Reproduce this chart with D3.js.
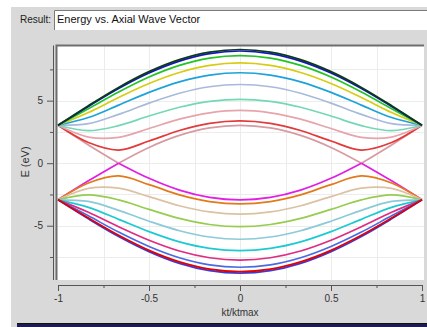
<!DOCTYPE html>
<html>
<head>
<meta charset="utf-8">
<script src="https://cdn.jsdelivr.net/npm/d3@7"></script>
<style>
  body { margin: 0; background: #fff; }
  svg text { font-family: "Liberation Sans", Arial, sans-serif; }
</style>
</head>
<body>
<div id="chart"></div>
<script>
// axial wave vector, kt/ktmax
var kt = [-1, -0.833, -0.667, -0.5, -0.333, -0.167, 0, 0.167, 0.333, 0.5, 0.667, 0.833, 1];

// upper bands (eV), listed top to bottom at kt = 0
var cb0 = [3.03, 4.60, 6.06, 7.32, 8.28, 8.88, 9.09, 8.88, 8.28, 7.32, 6.06, 4.60, 3.03];
var cb1 = [3.03, 4.54, 5.97, 7.21, 8.16, 8.76, 8.97, 8.76, 8.16, 7.21, 5.97, 4.54, 3.03];
var cb2 = [3.03, 4.35, 5.69, 6.89, 7.82, 8.40, 8.60, 8.40, 7.82, 6.89, 5.69, 4.35, 3.03];
var cb3 = [3.03, 4.05, 5.25, 6.37, 7.25, 7.82, 8.02, 7.82, 7.25, 6.37, 5.25, 4.05, 3.03];
var cb4 = [3.03, 3.65, 4.64, 5.66, 6.50, 7.04, 7.23, 7.04, 6.50, 5.66, 4.64, 3.65, 3.03];
var cb5 = [3.03, 3.16, 3.90, 4.80, 5.59, 6.11, 6.29, 6.11, 5.59, 4.80, 3.90, 3.16, 3.03];
var cb6 = [3.03, 2.60, 3.00, 3.77, 4.47, 4.94, 5.11, 4.94, 4.47, 3.77, 3.00, 2.60, 3.03];
var cb7 = [3.03, 2.09, 2.07, 2.77, 3.52, 4.03, 4.22, 4.03, 3.52, 2.77, 2.07, 2.09, 3.03];
var cb8 = [3.03, 1.65, 1.05, 1.77, 2.61, 3.18, 3.38, 3.18, 2.61, 1.77, 1.05, 1.65, 3.03];
var cb9 = [3.03, 1.46, 0, 1.26, 2.22, 2.82, 3.03, 2.82, 2.22, 1.26, 0, 1.46, 3.03];

// lower bands (eV), listed top to bottom at kt = 0
var vb9 = [-2.93, -1.41, 0, -1.21, -2.15, -2.73, -2.93, -2.73, -2.15, -1.21, 0, -1.41, -2.93];
var vb8 = [-2.93, -1.59, -1.02, -1.71, -2.53, -3.07, -3.26, -3.07, -2.53, -1.71, -1.02, -1.59, -2.93];
var vb7 = [-2.93, -2.02, -2.00, -2.67, -3.40, -3.90, -4.08, -3.90, -3.40, -2.67, -2.00, -2.02, -2.93];
var vb6 = [-2.93, -2.54, -2.93, -3.69, -4.41, -4.90, -5.08, -4.90, -4.41, -3.69, -2.93, -2.54, -2.93];
var vb5 = [-2.93, -3.06, -3.77, -4.64, -5.40, -5.90, -6.08, -5.90, -5.40, -4.64, -3.77, -3.06, -2.93];
var vb4 = [-2.93, -3.53, -4.49, -5.47, -6.29, -6.81, -6.99, -6.81, -6.29, -5.47, -4.49, -3.53, -2.93];
var vb3 = [-2.93, -3.92, -5.08, -6.16, -7.02, -7.56, -7.75, -7.56, -7.02, -6.16, -5.08, -3.92, -2.93];
var vb2 = [-2.93, -4.21, -5.51, -6.66, -7.56, -8.13, -8.32, -8.13, -7.56, -6.66, -5.51, -4.21, -2.93];
var vb1 = [-2.93, -4.39, -5.77, -6.97, -7.89, -8.47, -8.67, -8.47, -7.89, -6.97, -5.77, -4.39, -2.93];
var vb0 = [-2.93, -4.45, -5.86, -7.07, -8.01, -8.59, -8.79, -8.59, -8.01, -7.07, -5.86, -4.45, -2.93];

var bands = [cb9, cb8, cb7, cb6, cb5, cb4, cb3, cb2, cb1, cb0,
             vb9, vb8, vb7, vb6, vb5, vb4, vb3, vb2, vb0, vb1];
var bandColors = ["#d79aa2", "#e23a3a", "#e6a4ac", "#74d8b6", "#a8badb", "#1ea2da", "#d8cc12", "#22c422", "#1414c8", "#0c3a18",
                  "#e21ee2", "#e27a1a", "#dcc2a2", "#98cc4e", "#8ccad8", "#1ecad2", "#e22a82", "#4a6ae2", "#3a3ad8", "#e20000"];

var xTicks = [-1, -0.5, 0, 0.5, 1];
var xMinor = [-0.75, -0.25, 0.25, 0.75];
var yTicks = [-5, 0, 5];
var yMinor = [-7.5, -2.5, 2.5, 7.5];

var title = "Energy vs. Axial Wave Vector";

var W = 427, H = 327;
var svg = d3.select("#chart").append("svg")
    .attr("width", W)
    .attr("height", H);

// panel background
svg.append("rect").attr("x", 11).attr("y", 7).attr("width", W - 11).attr("height", H - 7).attr("fill", "#d9d9d9");
svg.append("rect").attr("x", 17).attr("y", 323).attr("width", W - 17).attr("height", 4).attr("fill", "#1c1c52");
svg.append("line").attr("x1", 17).attr("x2", W).attr("y1", 323.5).attr("y2", 323.5).attr("stroke", "#111");

// result field
svg.append("text").attr("x", 20).attr("y", 23).attr("font-size", 10).attr("fill", "#222").text("Result:");
svg.append("rect").attr("x", 54).attr("y", 10).attr("width", W - 54).attr("height", 20).attr("fill", "#fff");
svg.append("path").attr("d", "M54.5,30V10.5H" + W).attr("fill", "none").attr("stroke", "#7a7a7a");
svg.append("text").attr("x", 57).attr("y", 23).attr("font-size", 11).attr("fill", "#111").text(title);

// scales
var x = d3.scaleLinear().domain([-1, 1]).range([58, 422]);
var y = d3.scaleLinear().domain([-9.3, 9.45]).range([279.5, 45]);

// plot area
var px0 = 56, px1 = 424, py0 = 45, py1 = 280;
svg.append("rect").attr("x", px0).attr("y", py0).attr("width", px1 - px0).attr("height", py1 - py0).attr("fill", "#fff");

svg.append("defs").append("clipPath").attr("id", "clip")
  .append("rect").attr("x", px0).attr("y", py0).attr("width", px1 - px0).attr("height", py1 - py0);

// grid
var grid = svg.append("g").attr("stroke", "#ececec").attr("stroke-width", 1);
grid.selectAll(".gx").data(xTicks.concat(xMinor).filter(function(d) { return Math.abs(d) < 1; }))
  .enter().append("line")
  .attr("x1", function(d) { return Math.round(x(d)) + 0.5; })
  .attr("x2", function(d) { return Math.round(x(d)) + 0.5; })
  .attr("y1", py0).attr("y2", py1);
grid.selectAll(".gy").data(yTicks.concat(yMinor))
  .enter().append("line")
  .attr("y1", function(d) { return Math.round(y(d)) + 0.5; })
  .attr("y2", function(d) { return Math.round(y(d)) + 0.5; })
  .attr("x1", px0).attr("x2", px1);

// band curves; a band that touches zero is split there so the crossing stays sharp
var line = d3.line()
    .x(function(d) { return x(d[0]); })
    .y(function(d) { return y(d[1]); })
    .curve(d3.curveCatmullRom.alpha(0.5));

function pieces(vals) {
  var out = [], cur = [];
  vals.forEach(function(v, i) {
    cur.push([kt[i], v]);
    if (v === 0 && i > 0 && i < vals.length - 1) {
      out.push(cur);
      cur = [[kt[i], v]];
    }
  });
  out.push(cur);
  return out;
}

var curves = svg.append("g").attr("clip-path", "url(#clip)");
bands.forEach(function(b, i) {
  curves.selectAll(null).data(pieces(b)).enter().append("path")
    .attr("d", line)
    .attr("fill", "none")
    .attr("stroke", bandColors[i])
    .attr("stroke-width", 1.7);
});

// frame (sunken look)
svg.append("path").attr("d", "M" + (px0 + 0.5) + "," + py1 + "V" + (py0 + 0.5) + "H" + px1)
  .attr("fill", "none").attr("stroke", "#6e6e6e").attr("stroke-width", 2);

// x axis
var axX = svg.append("g").attr("transform", "translate(0,285)");
axX.call(d3.axisBottom(x).tickValues(xTicks).tickSize(6).tickSizeOuter(0).tickPadding(4)
  .tickFormat(function(d) { return String(d); }));
axX.append("g").call(d3.axisBottom(x).tickValues(xMinor).tickSize(3).tickSizeOuter(0).tickFormat(""))
  .select(".domain").remove();

// y axis
var axY = svg.append("g").attr("transform", "translate(53,0)");
axY.call(d3.axisLeft(y).tickValues(yTicks).tickSize(6).tickSizeOuter(0).tickPadding(4)
  .tickFormat(function(d) { return String(d); }));
axY.append("g").call(d3.axisLeft(y).tickValues(yMinor).tickSize(3).tickSizeOuter(0).tickFormat(""))
  .select(".domain").remove();

svg.selectAll(".domain, .tick line").attr("stroke", "#555");
svg.selectAll(".tick text").attr("font-size", 10).attr("fill", "#333")
  .attr("font-family", "Liberation Sans, Arial, sans-serif");

svg.append("text").attr("x", 240).attr("y", 316).attr("text-anchor", "middle")
  .attr("font-size", 10).attr("fill", "#333").text("kt/ktmax");
svg.append("text").attr("transform", "translate(29,162) rotate(-90)").attr("text-anchor", "middle")
  .attr("font-size", 11).attr("fill", "#333").text("E (eV)");
</script>
</body>
</html>
